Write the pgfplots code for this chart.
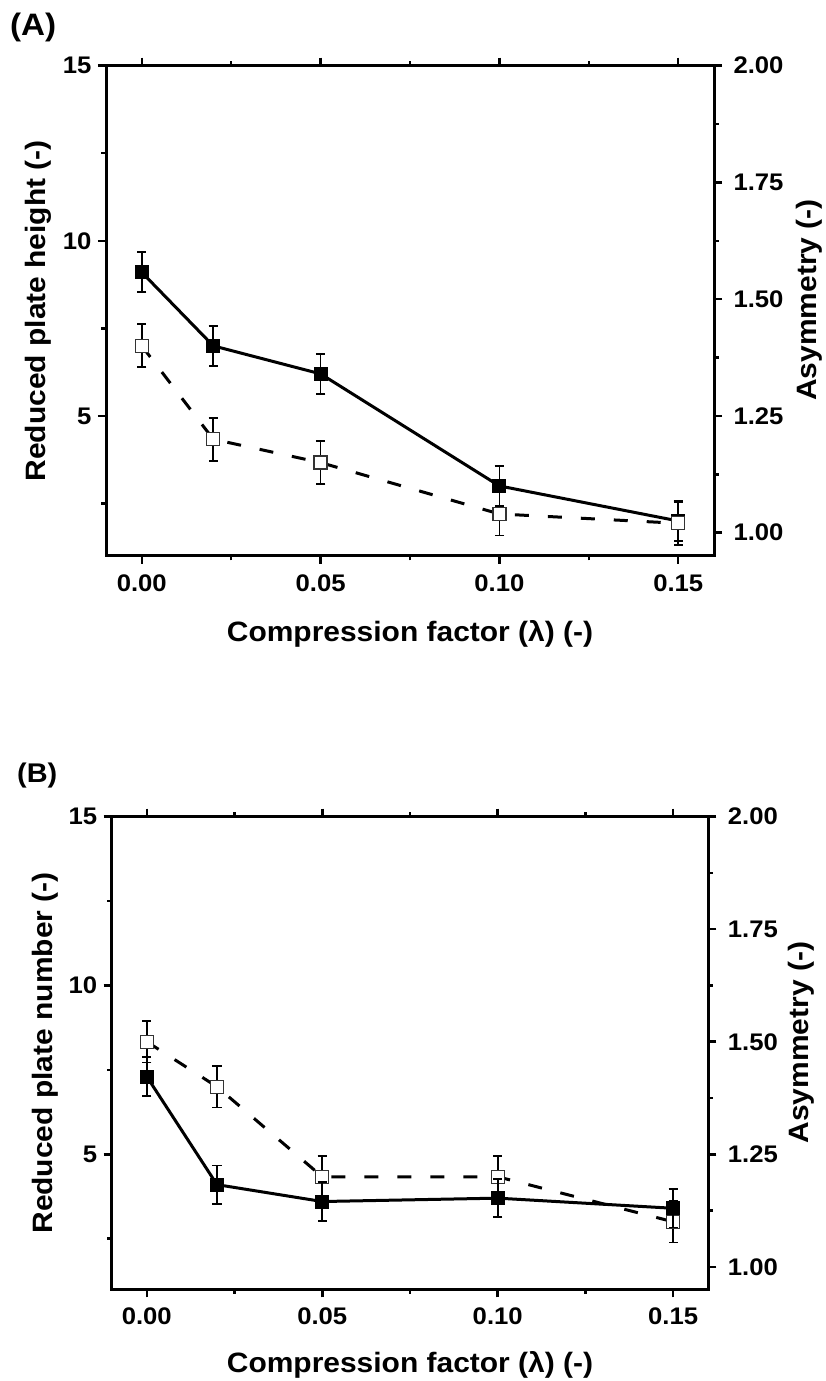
\documentclass[border=0pt]{standalone}
\usepackage{fontspec}
\setmainfont{Liberation Sans}[FakeStretch=1.07]
\usepackage{pgfplots}
\pgfplotsset{compat=1.18}

% Panel A data
\pgfplotstableread{
x     y    e
0.00  9.1  0.57
0.02  7.0  0.57
0.05  6.2  0.57
0.10  3.0  0.57
0.15  2.0  0.57
}\dataAH
\pgfplotstableread{
x     y     e
0.00  1.40  0.046
0.02  1.20  0.046
0.05  1.15  0.046
0.10  1.04  0.046
0.15  1.02  0.046
}\dataAS
% Panel B data
\pgfplotstableread{
x     y    e
0.00  7.3  0.57
0.02  4.1  0.57
0.05  3.6  0.57
0.10  3.7  0.57
0.15  3.4  0.57
}\dataBN
\pgfplotstableread{
x     y     e
0.00  1.50  0.046
0.02  1.40  0.046
0.05  1.20  0.046
0.10  1.20  0.046
0.15  1.10  0.046
}\dataBS

\newcommand{\lab}{\bfseries\fontsize{28}{28}\selectfont}
\newcommand{\tck}{\bfseries\fontsize{24}{24}\selectfont}

\pgfplotsset{
  base/.style={
    scale only axis,
    xmin=-0.01, xmax=0.16,
    tick align=outside,
    major tick length=8pt,
    minor tick length=4.5pt,
    every tick/.style={black, line width=2.5pt},
    axis line style={line width=3pt},
    /pgf/number format/assume math mode=true,
    tick label style={font=\tck},
    label style={font=\lab},
  },
  leftax/.style={
    base,
    ymin=1, ymax=15,
    xtick={0,0.05,0.10,0.15},
    minor xtick={0.025,0.075,0.125},
    xticklabels={0.00,0.05,0.10,0.15},
    xtick pos=both,
    ytick pos=left,
    ytick={5,10,15},
    minor ytick={2.5,7.5,12.5},
    xticklabel style={yshift=-7pt},
    yticklabel style={xshift=-3pt},
    xlabel={Compression factor (λ) (-)},
    xlabel style={at={(axis description cs:0.5,-0.175)}, anchor=base},
    ylabel style={at={(axis description cs:-0.0987,0.5)}, anchor=base},
  },
  rightax/.style={
    base,
    ymin=0.95, ymax=2.0,
    axis x line=none,
    axis y line*=right,
    ytick={1.00,1.25,1.50,1.75,2.00},
    minor ytick={1.125,1.375,1.625,1.875},
    yticklabels={1.00,1.25,1.50,1.75,2.00},
    yticklabel style={xshift=8pt},
    ylabel={Asymmetry (-)},
    ylabel style={at={(axis description cs:1.168,0.522)}, anchor=base},
  },
  filledser/.style={
    black, line width=3pt, solid,
    mark=square*, mark size=6.5pt,
    mark options={solid, fill=black, line width=1pt},
    error bars/.cd, y dir=both, y explicit,
    error bar style={line width=1.8pt, solid},
    error mark options={rotate=90, mark size=4.7pt, line width=1.8pt, solid},
  },
  openser/.style={
    black, line width=3pt, dash pattern=on 14pt off 19pt,
    mark=square*, mark size=6.5pt,
    mark options={solid, fill=white, draw=black!80, line width=1.2pt},
    error bars/.cd, y dir=both, y explicit,
    error bar style={line width=1.8pt, solid},
    error mark options={rotate=90, mark size=4.7pt, line width=1.8pt, solid},
  },
}

\begin{document}
\begin{tikzpicture}
\useasboundingbox (0,0) rectangle (825pt,1381pt);

% ---------- Panel A ----------
\node[anchor=base west, font=\bfseries\fontsize{31}{31}\selectfont, inner sep=0pt] at (10pt,1345pt) {(A)};
\begin{axis}[leftax, at={(106pt,825pt)}, anchor=south west, width=608pt, height=490.3pt,
  ylabel={Reduced plate height (-)}]
\addplot+[filledser] table[x=x, y=y, y error=e] {\dataAH};
\end{axis}
\begin{axis}[rightax, at={(106pt,825pt)}, anchor=south west, width=608pt, height=490.3pt]
\addplot+[openser] table[x=x, y=y, y error=e] {\dataAS};
\end{axis}

% ---------- Panel B ----------
\node[anchor=base west, font=\bfseries\fontsize{27}{27}\selectfont, inner sep=0pt] at (17pt,598.7pt) {(B)};
\begin{axis}[rightax, at={(111.7pt,91.7pt)}, anchor=south west, width=596.6pt, height=472.6pt]
\addplot+[openser] table[x=x, y=y, y error=e] {\dataBS};
\end{axis}
\begin{axis}[leftax, at={(111.7pt,91.7pt)}, anchor=south west, width=596.6pt, height=472.6pt,
  ylabel={Reduced plate number (-)}]
\addplot+[filledser] table[x=x, y=y, y error=e] {\dataBN};
\end{axis}
\end{tikzpicture}
\end{document}
